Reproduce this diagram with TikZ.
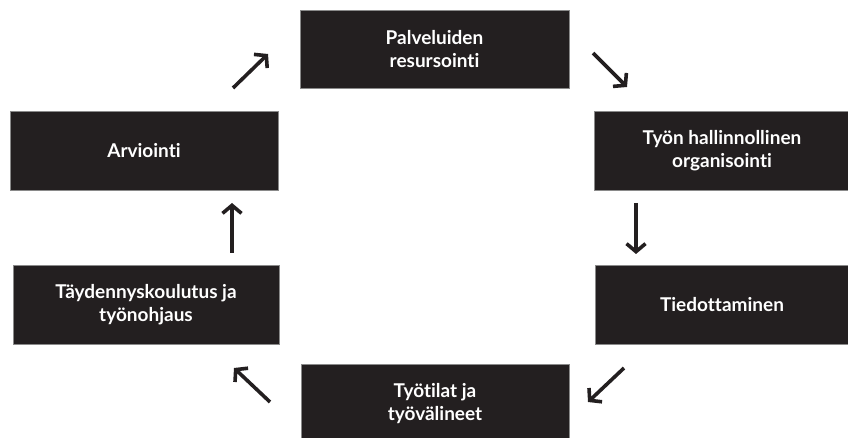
\documentclass[tikz,border=0pt]{standalone}
\usepackage{fontspec}
\setmainfont{Lato}[Ligatures={NoCommon,NoRare,NoContextual}]
\usetikzlibrary{arrows.meta}
\definecolor{boxfill}{HTML}{231F20}
\definecolor{boxedge}{HTML}{8A8A8A}
\tikzset{
  box/.style={draw=boxedge, line width=0.8pt, fill=boxfill, text=white,
    font=\fontsize{19}{23}\selectfont\bfseries, align=center, inner sep=0pt},
  flow/.style={draw=boxfill, line width=3.6pt,
    -{Straight Barb[length=8pt,width=19pt]}}
}
\begin{document}
\begin{tikzpicture}[x=1pt,y=-1pt]
\useasboundingbox (0,0) rectangle (848,438);
% boxes (corner coordinates in image pixels)
\node[box, minimum width=269pt, minimum height=78pt] (res) at (434.5,49) {Palveluiden\\resursointi};
\node[box, minimum width=256pt, minimum height=79pt] (org) at (722,150.5) {Työn hallinnollinen\\organisointi};
\node[box, minimum width=254pt, minimum height=79pt] (tie) at (722,304.5) {Tiedottaminen};
\node[box, minimum width=268pt, minimum height=80pt] (tyo) at (435,404) {Työtilat ja\\työvälineet};
\node[box, minimum width=266pt, minimum height=79pt] (tay) at (146,304.5) {Täydennyskoulutus ja\\työnohjaus};
\node[box, minimum width=268pt, minimum height=79pt] (arv) at (144,150.5) {Arviointi};
% arrow end points
\coordinate (a1s) at (593,53);  \coordinate (a1e) at (627,87);
\coordinate (a2s) at (636,203); \coordinate (a2e) at (636,254);
\coordinate (a3s) at (624,368); \coordinate (a3e) at (588,402);
\coordinate (a4s) at (270,402); \coordinate (a4e) at (234,368);
\coordinate (a5s) at (232,253); \coordinate (a5e) at (232,203);
\coordinate (a6s) at (233,88);  \coordinate (a6e) at (268,54);
\draw[flow] (a1s) -- (a1e);
\draw[flow] (a2s) -- (a2e);
\draw[flow] (a3s) -- (a3e);
\draw[flow] (a4s) -- (a4e);
\draw[flow] (a5s) -- (a5e);
\draw[flow] (a6s) -- (a6e);
\end{tikzpicture}
\end{document}
